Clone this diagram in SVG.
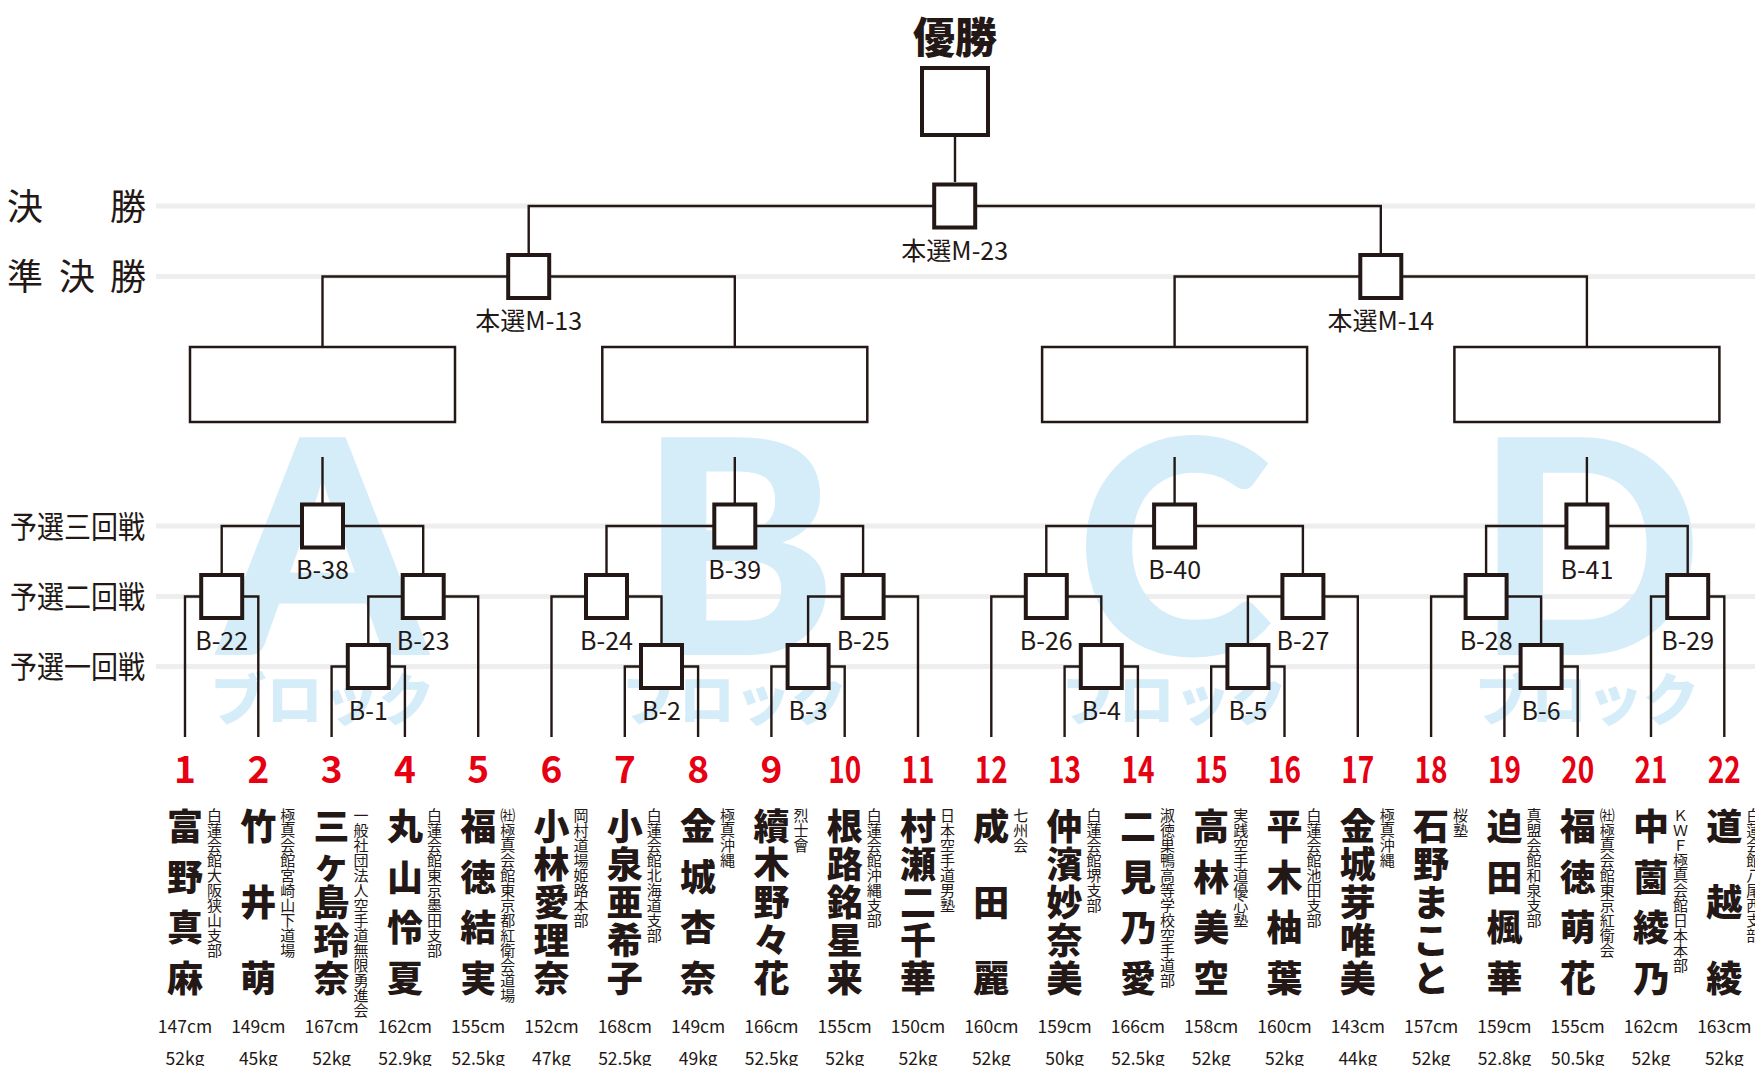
<svg xmlns="http://www.w3.org/2000/svg" width="1755" height="1066" viewBox="0 0 1755 1066">
<style>
text{font-family:"Noto Sans CJK JP","Noto Sans",sans-serif;fill:#231815}
.gl{stroke:#eeeeee;stroke-width:5;fill:none}
.ln{stroke:#231815;stroke-width:2.4;fill:none}
.bx{fill:#fff;stroke:#231815;stroke-width:4}
.bb{fill:#fff;stroke:#231815;stroke-width:2.5}
.lb{font-size:25px;text-anchor:middle}
.rd{font-size:36px}
.rl{font-size:31px}
.blk{font-family:Lato,"Noto Sans",sans-serif;font-weight:900;font-size:300px;fill:#d5ecf9;text-anchor:middle}
.bk{font-weight:900;font-size:56px;fill:#d5ecf9;text-anchor:middle}
.num{font-weight:700;font-size:37px;fill:#e60012;text-anchor:middle}
.nm{font-weight:900;font-size:36px;text-anchor:middle}
.af{font-size:15px;writing-mode:vertical-rl}
.hw{font-size:17.5px;text-anchor:middle}
</style>
<rect width="1755" height="1066" fill="#fff"/>
<g id="round-lines">
<path class="gl" d="M156 206H1755M156 276.5H1755M156 526H1755M156 596.5H1755M156 666.5H1755"/>
</g>
<g id="round-labels">
<text class="rd" x="7" y="220">決<tspan x="110">勝</tspan></text>
<text class="rd" x="7" y="290">準<tspan x="59">決</tspan><tspan x="110">勝</tspan></text>
<text class="rl" x="10" y="538" textLength="135" lengthAdjust="spacingAndGlyphs">予選三回戦</text>
<text class="rl" x="10" y="608" textLength="135" lengthAdjust="spacingAndGlyphs">予選二回戦</text>
<text class="rl" x="10" y="678" textLength="135" lengthAdjust="spacingAndGlyphs">予選一回戦</text>
</g>
<g id="block-marks">
<text class="blk" x="322.5" y="655">A</text>
<text class="blk" x="738" y="655">B</text>
<text class="blk" x="1174.6" y="655">C</text>
<text class="blk" x="1589" y="655">D</text>
<text class="bk" x="322.5" y="720">ブロック</text>
<text class="bk" x="734.8" y="720">ブロック</text>
<text class="bk" x="1174.6" y="720">ブロック</text>
<text class="bk" x="1586.9" y="720">ブロック</text>
</g>
<g id="connectors" class="ln">
<path d="M955 137V182"/>
<path d="M528.7 253V206H1380.8V253"/>
<path d="M322.5 347V276.5H734.8V347"/>
<path d="M1174.6 347V276.5H1586.9V347"/>
<path d="M322.5 457V503M221.7 573V526H423.2V573M185 737V596.5H258.3V737M368.3 643V596.5H478.2V737M331.6 737V666.5H404.9V737"/>
<path d="M734.8 457V503M606.5 573V526H863.1V573M551.5 737V596.5H661.5V643M624.8 737V666.5H698.1V737M808.1 643V596.5H918V737M771.4 737V666.5H844.7V737"/>
<path d="M1174.6 457V503M1046.3 573V526H1302.9V573M991.3 737V596.5H1101.3V643M1064.6 737V666.5H1137.9V737M1247.9 643V596.5H1357.8V737M1211.2 737V666.5H1284.5V737"/>
<path d="M1586.9 457V503M1486.1 573V526H1687.7V573M1431.1 737V596.5H1541.1V643M1504.4 737V666.5H1577.7V737M1651 737V596.5H1724.3V737"/>
</g>
<g id="winner"><text x="955" y="53" text-anchor="middle" font-size="42" font-weight="900">優勝</text><rect class="bx" x="922" y="68" width="66" height="67"/></g>
<g id="M-23"><rect class="bx" x="934.2" y="184.5" width="41" height="43"/><text class="lb" x="954.7" y="260">本選M-23</text></g>
<g id="M-13"><rect class="bx" x="508.2" y="255" width="41" height="43"/><text class="lb" x="528.7" y="330">本選M-13</text></g>
<g id="M-14"><rect class="bx" x="1360.3" y="255" width="41" height="43"/><text class="lb" x="1380.8" y="330">本選M-14</text></g>
<g id="block-A"><rect class="bb" x="190" y="347" width="265" height="75"/></g>
<g id="block-B"><rect class="bb" x="602.3" y="347" width="265" height="75"/></g>
<g id="block-C"><rect class="bb" x="1042.1" y="347" width="265" height="75"/></g>
<g id="block-D"><rect class="bb" x="1454.4" y="347" width="265" height="75"/></g>
<g id="B-38"><rect class="bx" x="302" y="504.5" width="41" height="43"/><text class="lb" x="322.5" y="579">B-38</text></g>
<g id="B-39"><rect class="bx" x="714.3" y="504.5" width="41" height="43"/><text class="lb" x="734.8" y="579">B-39</text></g>
<g id="B-40"><rect class="bx" x="1154.1" y="504.5" width="41" height="43"/><text class="lb" x="1174.6" y="579">B-40</text></g>
<g id="B-41"><rect class="bx" x="1566.4" y="504.5" width="41" height="43"/><text class="lb" x="1586.9" y="579">B-41</text></g>
<g id="B-22"><rect class="bx" x="201.2" y="575" width="41" height="43"/><text class="lb" x="221.7" y="650">B-22</text></g>
<g id="B-23"><rect class="bx" x="402.7" y="575" width="41" height="43"/><text class="lb" x="423.2" y="650">B-23</text></g>
<g id="B-24"><rect class="bx" x="586" y="575" width="41" height="43"/><text class="lb" x="606.5" y="650">B-24</text></g>
<g id="B-25"><rect class="bx" x="842.6" y="575" width="41" height="43"/><text class="lb" x="863.1" y="650">B-25</text></g>
<g id="B-26"><rect class="bx" x="1025.8" y="575" width="41" height="43"/><text class="lb" x="1046.3" y="650">B-26</text></g>
<g id="B-27"><rect class="bx" x="1282.4" y="575" width="41" height="43"/><text class="lb" x="1302.9" y="650">B-27</text></g>
<g id="B-28"><rect class="bx" x="1465.6" y="575" width="41" height="43"/><text class="lb" x="1486.1" y="650">B-28</text></g>
<g id="B-29"><rect class="bx" x="1667.2" y="575" width="41" height="43"/><text class="lb" x="1687.7" y="650">B-29</text></g>
<g id="B-1"><rect class="bx" x="347.8" y="645" width="41" height="43"/><text class="lb" x="368.3" y="720">B-1</text></g>
<g id="B-2"><rect class="bx" x="641" y="645" width="41" height="43"/><text class="lb" x="661.5" y="720">B-2</text></g>
<g id="B-3"><rect class="bx" x="787.6" y="645" width="41" height="43"/><text class="lb" x="808.1" y="720">B-3</text></g>
<g id="B-4"><rect class="bx" x="1080.8" y="645" width="41" height="43"/><text class="lb" x="1101.3" y="720">B-4</text></g>
<g id="B-5"><rect class="bx" x="1227.4" y="645" width="41" height="43"/><text class="lb" x="1247.9" y="720">B-5</text></g>
<g id="B-6"><rect class="bx" x="1520.6" y="645" width="41" height="43"/><text class="lb" x="1541.1" y="720">B-6</text></g>

<g id="p1"><text class="num" x="185" y="783">1</text><text class="nm"><tspan x="185" y="840">富</tspan><tspan x="185" y="890.5">野</tspan><tspan x="185" y="941">真</tspan><tspan x="185" y="991.5">麻</tspan></text><text class="af" x="214.5" y="808">白蓮会館大阪狭山支部</text><text class="hw" x="185" y="1033">147cm</text><text class="hw" x="185" y="1065">52kg</text></g>
<g id="p2"><text class="num" x="258.3" y="783">2</text><text class="nm"><tspan x="258.3" y="840">竹</tspan><tspan x="258.3" y="915.75">井</tspan><tspan x="258.3" y="991.5">萌</tspan></text><text class="af" x="287.8" y="808">極真会館宮崎山下道場</text><text class="hw" x="258.3" y="1033">149cm</text><text class="hw" x="258.3" y="1065">45kg</text></g>
<g id="p3"><text class="num" x="331.6" y="783">3</text><text class="nm"><tspan x="331.6" y="840">三</tspan><tspan x="331.6" y="877.9">ヶ</tspan><tspan x="331.6" y="915.75">島</tspan><tspan x="331.6" y="953.6">玲</tspan><tspan x="331.6" y="991.5">奈</tspan></text><text class="af" x="361.1" y="808">一般社団法人空手道無限勇進会</text><text class="hw" x="331.6" y="1033">167cm</text><text class="hw" x="331.6" y="1065">52kg</text></g>
<g id="p4"><text class="num" x="404.9" y="783">4</text><text class="nm"><tspan x="404.9" y="840">丸</tspan><tspan x="404.9" y="890.5">山</tspan><tspan x="404.9" y="941">怜</tspan><tspan x="404.9" y="991.5">夏</tspan></text><text class="af" x="434.4" y="808">白蓮会館東京墨田支部</text><text class="hw" x="404.9" y="1033">162cm</text><text class="hw" x="404.9" y="1065">52.9kg</text></g>
<g id="p5"><text class="num" x="478.2" y="783">5</text><text class="nm"><tspan x="478.2" y="840">福</tspan><tspan x="478.2" y="890.5">徳</tspan><tspan x="478.2" y="941">結</tspan><tspan x="478.2" y="991.5">実</tspan></text><text class="af" x="507.7" y="808">㈳極真会館東京都紅衛会道場</text><text class="hw" x="478.2" y="1033">155cm</text><text class="hw" x="478.2" y="1065">52.5kg</text></g>
<g id="p6"><text class="num" x="551.5" y="783">6</text><text class="nm"><tspan x="551.5" y="840">小</tspan><tspan x="551.5" y="877.9">林</tspan><tspan x="551.5" y="915.75">愛</tspan><tspan x="551.5" y="953.6">理</tspan><tspan x="551.5" y="991.5">奈</tspan></text><text class="af" x="581" y="808">岡村道場姫路本部</text><text class="hw" x="551.5" y="1033">152cm</text><text class="hw" x="551.5" y="1065">47kg</text></g>
<g id="p7"><text class="num" x="624.8" y="783">7</text><text class="nm"><tspan x="624.8" y="840">小</tspan><tspan x="624.8" y="877.9">泉</tspan><tspan x="624.8" y="915.75">亜</tspan><tspan x="624.8" y="953.6">希</tspan><tspan x="624.8" y="991.5">子</tspan></text><text class="af" x="654.3" y="808">白蓮会館北海道支部</text><text class="hw" x="624.8" y="1033">168cm</text><text class="hw" x="624.8" y="1065">52.5kg</text></g>
<g id="p8"><text class="num" x="698.1" y="783">8</text><text class="nm"><tspan x="698.1" y="840">金</tspan><tspan x="698.1" y="890.5">城</tspan><tspan x="698.1" y="941">杏</tspan><tspan x="698.1" y="991.5">奈</tspan></text><text class="af" x="727.6" y="808">極真沖縄</text><text class="hw" x="698.1" y="1033">149cm</text><text class="hw" x="698.1" y="1065">49kg</text></g>
<g id="p9"><text class="num" x="771.4" y="783">9</text><text class="nm"><tspan x="771.4" y="840">續</tspan><tspan x="771.4" y="877.9">木</tspan><tspan x="771.4" y="915.75">野</tspan><tspan x="771.4" y="953.6">々</tspan><tspan x="771.4" y="991.5">花</tspan></text><text class="af" x="800.9" y="808">烈士會</text><text class="hw" x="771.4" y="1033">166cm</text><text class="hw" x="771.4" y="1065">52.5kg</text></g>
<g id="p10"><text class="num" x="844.7" y="783" textLength="33" lengthAdjust="spacingAndGlyphs">10</text><text class="nm"><tspan x="844.7" y="840">根</tspan><tspan x="844.7" y="877.9">路</tspan><tspan x="844.7" y="915.75">銘</tspan><tspan x="844.7" y="953.6">星</tspan><tspan x="844.7" y="991.5">来</tspan></text><text class="af" x="874.2" y="808">白蓮会館沖縄支部</text><text class="hw" x="844.7" y="1033">155cm</text><text class="hw" x="844.7" y="1065">52kg</text></g>
<g id="p11"><text class="num" x="918" y="783" textLength="33" lengthAdjust="spacingAndGlyphs">11</text><text class="nm"><tspan x="918" y="840">村</tspan><tspan x="918" y="877.9">瀬</tspan><tspan x="918" y="915.75">二</tspan><tspan x="918" y="953.6">千</tspan><tspan x="918" y="991.5">華</tspan></text><text class="af" x="947.5" y="808">日本空手道男塾</text><text class="hw" x="918" y="1033">150cm</text><text class="hw" x="918" y="1065">52kg</text></g>
<g id="p12"><text class="num" x="991.3" y="783" textLength="33" lengthAdjust="spacingAndGlyphs">12</text><text class="nm"><tspan x="991.3" y="840">成</tspan><tspan x="991.3" y="915.75">田</tspan><tspan x="991.3" y="991.5">麗</tspan></text><text class="af" x="1020.8" y="808">七州会</text><text class="hw" x="991.3" y="1033">160cm</text><text class="hw" x="991.3" y="1065">52kg</text></g>
<g id="p13"><text class="num" x="1064.6" y="783" textLength="33" lengthAdjust="spacingAndGlyphs">13</text><text class="nm"><tspan x="1064.6" y="840">仲</tspan><tspan x="1064.6" y="877.9">濱</tspan><tspan x="1064.6" y="915.75">妙</tspan><tspan x="1064.6" y="953.6">奈</tspan><tspan x="1064.6" y="991.5">美</tspan></text><text class="af" x="1094.1" y="808">白蓮会館堺支部</text><text class="hw" x="1064.6" y="1033">159cm</text><text class="hw" x="1064.6" y="1065">50kg</text></g>
<g id="p14"><text class="num" x="1137.9" y="783" textLength="33" lengthAdjust="spacingAndGlyphs">14</text><text class="nm"><tspan x="1137.9" y="840">二</tspan><tspan x="1137.9" y="890.5">見</tspan><tspan x="1137.9" y="941">乃</tspan><tspan x="1137.9" y="991.5">愛</tspan></text><text class="af" x="1167.4" y="808">淑徳巣鴨高等学校空手道部</text><text class="hw" x="1137.9" y="1033">166cm</text><text class="hw" x="1137.9" y="1065">52.5kg</text></g>
<g id="p15"><text class="num" x="1211.2" y="783" textLength="33" lengthAdjust="spacingAndGlyphs">15</text><text class="nm"><tspan x="1211.2" y="840">高</tspan><tspan x="1211.2" y="890.5">林</tspan><tspan x="1211.2" y="941">美</tspan><tspan x="1211.2" y="991.5">空</tspan></text><text class="af" x="1240.7" y="808">実践空手道優心塾</text><text class="hw" x="1211.2" y="1033">158cm</text><text class="hw" x="1211.2" y="1065">52kg</text></g>
<g id="p16"><text class="num" x="1284.5" y="783" textLength="33" lengthAdjust="spacingAndGlyphs">16</text><text class="nm"><tspan x="1284.5" y="840">平</tspan><tspan x="1284.5" y="890.5">木</tspan><tspan x="1284.5" y="941">柚</tspan><tspan x="1284.5" y="991.5">葉</tspan></text><text class="af" x="1314" y="808">白蓮会館池田支部</text><text class="hw" x="1284.5" y="1033">160cm</text><text class="hw" x="1284.5" y="1065">52kg</text></g>
<g id="p17"><text class="num" x="1357.8" y="783" textLength="33" lengthAdjust="spacingAndGlyphs">17</text><text class="nm"><tspan x="1357.8" y="840">金</tspan><tspan x="1357.8" y="877.9">城</tspan><tspan x="1357.8" y="915.75">芽</tspan><tspan x="1357.8" y="953.6">唯</tspan><tspan x="1357.8" y="991.5">美</tspan></text><text class="af" x="1387.3" y="808">極真沖縄</text><text class="hw" x="1357.8" y="1033">143cm</text><text class="hw" x="1357.8" y="1065">44kg</text></g>
<g id="p18"><text class="num" x="1431.1" y="783" textLength="33" lengthAdjust="spacingAndGlyphs">18</text><text class="nm"><tspan x="1431.1" y="840">石</tspan><tspan x="1431.1" y="877.9">野</tspan><tspan x="1431.1" y="915.75">ま</tspan><tspan x="1431.1" y="953.6">こ</tspan><tspan x="1431.1" y="991.5">と</tspan></text><text class="af" x="1460.6" y="808">桜塾</text><text class="hw" x="1431.1" y="1033">157cm</text><text class="hw" x="1431.1" y="1065">52kg</text></g>
<g id="p19"><text class="num" x="1504.4" y="783" textLength="33" lengthAdjust="spacingAndGlyphs">19</text><text class="nm"><tspan x="1504.4" y="840">迫</tspan><tspan x="1504.4" y="890.5">田</tspan><tspan x="1504.4" y="941">楓</tspan><tspan x="1504.4" y="991.5">華</tspan></text><text class="af" x="1533.9" y="808">真盟会館和泉支部</text><text class="hw" x="1504.4" y="1033">159cm</text><text class="hw" x="1504.4" y="1065">52.8kg</text></g>
<g id="p20"><text class="num" x="1577.7" y="783" textLength="33" lengthAdjust="spacingAndGlyphs">20</text><text class="nm"><tspan x="1577.7" y="840">福</tspan><tspan x="1577.7" y="890.5">徳</tspan><tspan x="1577.7" y="941">萌</tspan><tspan x="1577.7" y="991.5">花</tspan></text><text class="af" x="1607.2" y="808">㈳極真会館東京紅衛会</text><text class="hw" x="1577.7" y="1033">155cm</text><text class="hw" x="1577.7" y="1065">50.5kg</text></g>
<g id="p21"><text class="num" x="1651" y="783" textLength="33" lengthAdjust="spacingAndGlyphs">21</text><text class="nm"><tspan x="1651" y="840">中</tspan><tspan x="1651" y="890.5">薗</tspan><tspan x="1651" y="941">綾</tspan><tspan x="1651" y="991.5">乃</tspan></text><text class="af" x="1680.5" y="808">ＫＷＦ極真会館日本本部</text><text class="hw" x="1651" y="1033">162cm</text><text class="hw" x="1651" y="1065">52kg</text></g>
<g id="p22"><text class="num" x="1724.3" y="783" textLength="33" lengthAdjust="spacingAndGlyphs">22</text><text class="nm"><tspan x="1724.3" y="840">道</tspan><tspan x="1724.3" y="915.75">越</tspan><tspan x="1724.3" y="991.5">綾</tspan></text><text class="af" x="1753.8" y="808">白蓮会館八尾西支部</text><text class="hw" x="1724.3" y="1033">163cm</text><text class="hw" x="1724.3" y="1065">52kg</text></g>
</svg>
